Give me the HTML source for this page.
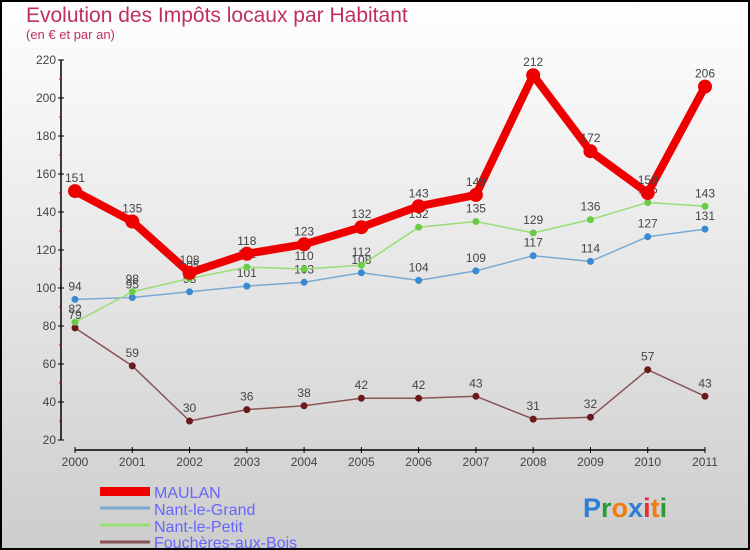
<!DOCTYPE html>
<html><head><meta charset="utf-8"><style>
body{margin:0}
#c{width:750px;height:550px;position:relative;overflow:hidden;font-family:"Liberation Sans",sans-serif}
</style></head><body>
<div id="c">
<svg id="s" width="750" height="550" xmlns="http://www.w3.org/2000/svg">
<defs><linearGradient id="bg" x1="0" y1="0" x2="0" y2="1"><stop offset="0" stop-color="#ffffff"/><stop offset="1" stop-color="#cdcdcd"/></linearGradient></defs>
<rect x="1" y="1" width="748" height="548" fill="url(#bg)" stroke="#000" stroke-width="2"/>
<text x="26" y="22" font-size="21" fill="#c0305a">Evolution des Impôts locaux par Habitant</text>
<text x="26" y="39" font-size="13" fill="#c0305a">(en € et par an)</text>
<g id="axes"></g><g id="plot"></g>
<g>
<rect x="100" y="527" width="50" height="9" fill="#ee0000" transform="translate(0,-40)"/>
<text x="154" y="498" font-size="16" fill="#6666ff">MAULAN</text>
<line x1="100" y1="508" x2="150" y2="508" stroke="#7aaad4" stroke-width="3"/>
<text x="154" y="515" font-size="16" fill="#6666ff">Nant-le-Grand</text>
<line x1="100" y1="525" x2="150" y2="525" stroke="#99dd77" stroke-width="3"/>
<text x="154" y="532" font-size="16" fill="#6666ff">Nant-le-Petit</text>
<line x1="100" y1="542" x2="150" y2="542" stroke="#8a5555" stroke-width="3"/>
<text x="154" y="548" font-size="16" fill="#6666ff">Fouchères-aux-Bois</text>
</g>
<text x="583" y="517" font-size="27" font-weight="bold"><tspan fill="#2a7fd4">P</tspan><tspan fill="#2a9a3a">r</tspan><tspan fill="#f07b10">o</tspan><tspan fill="#2a7fd4">x</tspan><tspan fill="#e23030">i</tspan><tspan fill="#f07b10">t</tspan><tspan fill="#2a9a3a">i</tspan></text>
</svg></div>
<script>
const years=["2000","2001","2002","2003","2004","2005","2006","2007","2008","2009","2010","2011"];
const maulan=[151,135,108,118,123,132,143,149,212,172,150,206];
const grand=[94,95,98,101,103,108,104,109,117,114,127,131];
const petit=[82,98,105,111,110,112,132,135,129,136,145,143];
const fouch=[79,59,30,36,38,42,42,43,31,32,57,43];
const yTicks=[20,40,60,80,100,120,140,160,180,200,220];
const NS="http://www.w3.org/2000/svg";
const x=i=>75+i*630/11, y=v=>440-(v-20)*1.9;
function mk(t,a,p){const e=document.createElementNS(NS,t);for(const k in a)e.setAttribute(k,a[k]);p.appendChild(e);return e;}
const ax=document.getElementById('axes'), pl=document.getElementById('plot');
const ya=mk('line',{x1:61,y1:60,x2:61,y2:440,stroke:'#000','stroke-width':1.5},ax);


yTicks.forEach((v,i)=>{
 mk('line',{x1:58,x2:64,y1:y(v),y2:y(v),stroke:'#000'},ax);
 if(i<yTicks.length-1)mk('line',{x1:59,x2:61,y1:y(v+10),y2:y(v+10),stroke:'#d00'},ax);
 const t=mk('text',{x:56,y:y(v)+4,'text-anchor':'end','font-size':12,fill:'#444'},ax);t.textContent=v;
 
 
});
const xa=mk('line',{x1:75,y1:450,x2:705,y2:450,stroke:'#000','stroke-width':1.5},ax);


years.forEach((yr,i)=>{
 mk('line',{x1:x(i),x2:x(i),y1:447,y2:453,stroke:'#000'},ax);
 const t=mk('text',{x:x(i),y:466,'text-anchor':'middle','font-size':12,fill:'#444'},ax);t.textContent=yr;
 
 
});
function series(d,col,w,r,dot,name){
 const g=mk('g',{},pl);
 
 
 const p=mk('polyline',{points:d.map((v,i)=>x(i)+','+y(v)).join(' '),fill:'none',stroke:col,'stroke-width':w,'stroke-linejoin':'round'},g);
 
 
 d.forEach((v,i)=>{
  const c=mk('circle',{cx:x(i),cy:y(v),r:r,fill:dot},g);
  
  
  const t=mk('text',{x:x(i),y:y(v)-9,'text-anchor':'middle','font-size':12,fill:'#444'},g);t.textContent=v;
  
  
 });
}
series(fouch,'#8a5555',1.5,3.5,'#6a1a1a','foucheres-aux-bois');
series(grand,'#7aaad4',1.5,3.5,'#3a8ad0','nant-le-grand');
series(petit,'#99dd77',1.5,3.5,'#6acc44','nant-le-petit');
series(maulan,'#ee0000',8,7,'#ee0000','maulan');
</script>
</body></html>
